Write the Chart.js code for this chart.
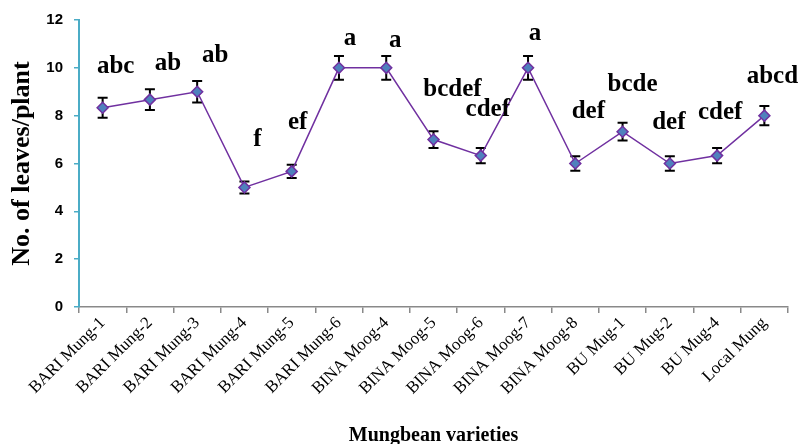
<!DOCTYPE html>
<html>
<head>
<meta charset="utf-8">
<script src="https://cdn.jsdelivr.net/npm/chart.js@4"></script>
<style>
  body { margin: 0; background: #fff; }
</style>
</head>
<body>
<canvas id="leafChart" width="803" height="444"></canvas>
<script>
const varieties = [
  "BARI Mung-1", "BARI Mung-2", "BARI Mung-3", "BARI Mung-4", "BARI Mung-5",
  "BARI Mung-6", "BINA Moog-4", "BINA Moog-5", "BINA Moog-6", "BINA Moog-7",
  "BINA Moog-8", "BU Mug-1", "BU Mug-2", "BU Mug-4", "Local Mung"
];
const leaves = [8.33, 8.67, 9.0, 5.0, 5.67, 10.0, 10.0, 7.0, 6.33, 10.0, 6.0, 7.33, 6.0, 6.33, 8.0];
const errors = [0.42, 0.43, 0.45, 0.25, 0.28, 0.5, 0.5, 0.35, 0.32, 0.5, 0.3, 0.37, 0.3, 0.32, 0.4];
const letters = ["abc", "ab", "ab", "f", "ef", "a", "a", "bcdef", "cdef", "a", "def", "bcde", "def", "cdef", "abcd"];

// pixel offsets of each letter label (center x, baseline y) from its point
const letterOffsets = [
  [13, -35], [18, -30], [18, -30], [13, -41], [6, -42],
  [11, -23], [9, -21], [19, -44], [7, -40], [7, -28],
  [13, -46], [10, -41], [-1, -35], [3, -37], [8, -33]
];

const errorBars = {
  id: "errorBars",
  beforeDatasetsDraw(chart) {
    const { ctx, scales: { x, y } } = chart;
    ctx.save();
    ctx.strokeStyle = "#000";
    ctx.lineWidth = 2;
    leaves.forEach((v, i) => {
      const px = x.getPixelForValue(i);
      const top = y.getPixelForValue(v + errors[i]);
      const bot = y.getPixelForValue(v - errors[i]);
      ctx.beginPath();
      ctx.moveTo(px, top); ctx.lineTo(px, bot);
      ctx.moveTo(px - 5, top); ctx.lineTo(px + 5, top);
      ctx.moveTo(px - 5, bot); ctx.lineTo(px + 5, bot);
      ctx.stroke();
    });
    ctx.restore();
  }
};

const letterLabels = {
  id: "letterLabels",
  afterDatasetsDraw(chart) {
    const { ctx, scales: { x, y } } = chart;
    ctx.save();
    ctx.fillStyle = "#000";
    ctx.font = "bold 25px 'Liberation Serif', 'Times New Roman', serif";
    ctx.textAlign = "center";
    ctx.textBaseline = "alphabetic";
    letters.forEach((t, i) => {
      const px = x.getPixelForValue(i) + letterOffsets[i][0];
      const py = y.getPixelForValue(leaves[i]) + letterOffsets[i][1];
      ctx.fillText(t, px, py);
    });
    ctx.restore();
  }
};

new Chart(document.getElementById("leafChart").getContext("2d"), {
  type: "line",
  data: {
    labels: varieties,
    datasets: [{
      data: leaves,
      borderColor: "#7030A0",
      borderWidth: 1.5,
      pointStyle: "rectRot",
      pointRadius: 5.5,
      pointBackgroundColor: "#4F81BD",
      pointBorderColor: "#7030A0",
      pointBorderWidth: 1.5,
      tension: 0
    }]
  },
  options: {
    responsive: false,
    animation: false,
    layout: { padding: { top: 16, right: 15 } },
    scales: {
      x: {
        offset: true,
        grid: { offset: true, drawOnChartArea: false, tickLength: 6, color: "#898989", lineWidth: 1.5 },
        border: { color: "#898989", width: 1.5 },
        ticks: {
          minRotation: 45, maxRotation: 45, padding: 0, color: "#000",
          font: { family: "'Liberation Serif', 'Times New Roman', serif", size: 17 }
        },
        title: {
          display: true, text: "Mungbean varieties", color: "#000", padding: { top: 0, bottom: -4 },
          font: { family: "'Liberation Serif', 'Times New Roman', serif", size: 20, weight: "bold" }
        },
        afterFit: s => { s.height = 137; }
      },
      y: {
        min: 0, max: 12,
        grid: { drawOnChartArea: false, tickLength: 5, color: "#4BACC6", lineWidth: 1.5 },
        border: { color: "#4BACC6", width: 2 },
        ticks: {
          stepSize: 2, padding: 11, color: "#000",
          font: { family: "'Liberation Sans', Arial, sans-serif", size: 15, weight: "bold" }
        },
        title: {
          display: true, text: "No. of leaves/plant", color: "#000", padding: { top: 7, bottom: 0 },
          font: { family: "'Liberation Serif', 'Times New Roman', serif", size: 26, weight: "bold" }
        },
        afterFit: s => { s.width = 79; }
      }
    },
    plugins: {
      legend: { display: false },
      tooltip: { enabled: false }
    }
  },
  plugins: [errorBars, letterLabels]
});
</script>
</body>
</html>
